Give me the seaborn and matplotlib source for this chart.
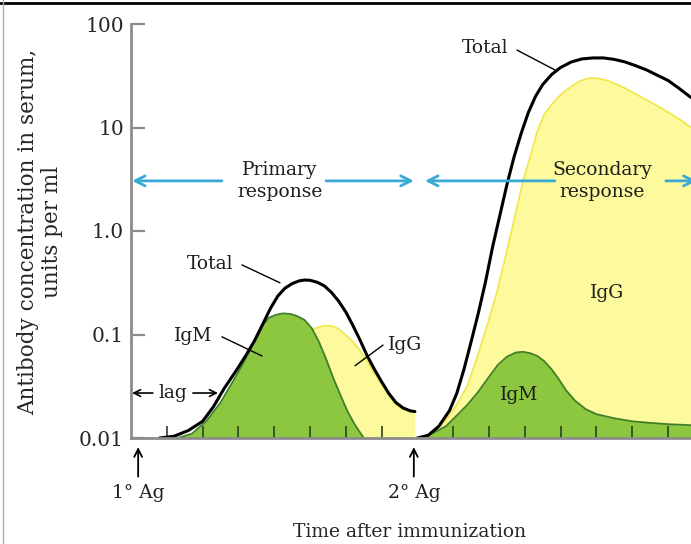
import matplotlib
matplotlib.use("Agg")
import matplotlib.pyplot as plt
import seaborn as sns
from matplotlib.transforms import blended_transform_factory
from matplotlib.lines import Line2D

# ---------------- data ----------------
# x: time after primary immunization, in tick intervals; y: units per ml
prim_total_x = [0.8, 1.2, 1.6, 2.0, 2.3, 2.6, 2.96, 3.2, 3.45, 3.7, 3.9, 4.1, 4.3, 4.5, 4.7,
                4.85, 5.0, 5.2, 5.4, 5.6, 5.8, 6.0, 6.2, 6.4, 6.6, 6.8, 7.0, 7.2, 7.4, 7.6,
                7.8, 7.93]
prim_total_y = [0.01, 0.0104, 0.0118, 0.0145, 0.02, 0.03, 0.046, 0.062, 0.087, 0.13, 0.18,
                0.235, 0.28, 0.31, 0.33, 0.336, 0.334, 0.32, 0.295, 0.255, 0.21, 0.165,
                0.122, 0.088, 0.062, 0.046, 0.035, 0.027, 0.022, 0.0195, 0.0183, 0.018]

prim_igm_x = [1.3, 1.7, 2.1, 2.5, 2.8, 3.1, 3.4, 3.65, 3.85, 4.05, 4.25, 4.45, 4.65, 4.85,
              5.05, 5.25, 5.45, 5.65, 5.85, 6.05, 6.25, 6.5]
prim_igm_y = [0.01, 0.011, 0.0145, 0.022, 0.033, 0.05, 0.08, 0.12, 0.145, 0.155, 0.16, 0.158,
              0.15, 0.138, 0.115, 0.085, 0.058, 0.038, 0.026, 0.018, 0.0135, 0.01]

prim_igg_x = [3.0, 3.5, 3.9, 4.3, 4.6, 4.9, 5.15, 5.4, 5.6, 5.8, 6.0, 6.2, 6.4, 6.6, 6.8,
              7.0, 7.2, 7.4, 7.6, 7.8, 7.93]
prim_igg_y = [0.01, 0.014, 0.024, 0.045, 0.075, 0.1, 0.115, 0.122, 0.121, 0.113, 0.099,
              0.085, 0.07, 0.055, 0.042, 0.033, 0.026, 0.021, 0.019, 0.018, 0.018]

sec_total_x = [8.0, 8.3, 8.6, 8.9, 9.1, 9.3, 9.5, 9.7, 9.9, 10.1, 10.3, 10.5, 10.7, 10.9,
               11.1, 11.3, 11.5, 11.75, 12.0, 12.3, 12.6, 12.9, 13.2, 13.5, 13.8, 14.1,
               14.4, 14.7, 15.0, 15.3, 15.64]
sec_total_y = [0.01, 0.0106, 0.013, 0.0185, 0.027, 0.046, 0.085, 0.16, 0.32, 0.7, 1.4, 2.8,
               5.2, 8.8, 14, 20, 26, 32.5, 38, 43, 46, 47, 47, 45.5, 43, 39.5, 36, 32,
               28.5, 24, 19.5]

sec_igg_x = [8.0, 8.4, 8.8, 9.1, 9.4, 9.7, 10.0, 10.2, 10.4, 10.6, 10.8, 10.95, 11.15,
             11.35, 11.55, 11.8, 12.05, 12.3, 12.55, 12.8, 13.05, 13.3, 13.6, 13.9, 14.3,
             14.7, 15.1, 15.4, 15.64]
sec_igg_y = [0.01, 0.011, 0.015, 0.021, 0.032, 0.065, 0.14, 0.24, 0.46, 0.9, 1.8, 3.04,
             5.2, 9.2, 13.5, 17.5, 21.5, 25, 28.3, 30, 29.8, 28.5, 25.8, 23, 19.3, 16.2,
             13.4, 11.5, 10]

sec_igm_x = [8.0, 8.4, 8.8, 9.1, 9.4, 9.7, 10.0, 10.25, 10.5, 10.75, 10.95, 11.15, 11.35,
             11.55, 11.75, 11.95, 12.15, 12.4, 12.7, 13.0, 13.5, 14.0, 14.5, 15.0, 15.64]
sec_igm_y = [0.01, 0.011, 0.013, 0.0165, 0.021, 0.028, 0.039, 0.051, 0.061, 0.067, 0.068,
             0.066, 0.062, 0.055, 0.046, 0.037, 0.029, 0.023, 0.019, 0.017, 0.0155,
             0.0145, 0.014, 0.0136, 0.0133]

y_ticks = [0.01, 0.1, 1.0, 10, 100]
y_ticklabels = ["0.01", "0.1", "1.0", "10", "100"]
x_ticks = [1, 2, 3, 4, 5, 6, 7, 9, 10, 11, 12, 13, 14, 15]

# ---------------- style ----------------
sns.set_style("white")
plt.rcParams["font.family"] = ["DejaVu Serif"]
plt.rcParams["text.color"] = "#1e1e1e"
FS = 13.5
GREEN = "#8dc63f"
GREEN_EDGE = "#3f7f28"
YELLOW = "#fdfa9e"
YELLOW_EDGE = "#f0e84e"
BLUE = "#3aa9d6"
GREY = "#8c8c8c"

fig = plt.figure(figsize=(6.91, 5.44), dpi=100)
ax = fig.add_axes([131 / 691, 106 / 544, 560 / 691, 414 / 544])
ax.set_yscale("log")
ax.set_axisbelow(False)

def area(xs, ys, fill, edge, z):
    ax.fill_between(xs, 0.01, ys, color=fill, lw=0, zorder=z)
    sns.lineplot(x=xs, y=ys, ax=ax, color=edge, lw=1.3, sort=False,
                 estimator=None, zorder=z + 0.05)

area(prim_igg_x, prim_igg_y, YELLOW, YELLOW_EDGE, 1.0)
area(prim_igm_x, prim_igm_y, GREEN, GREEN_EDGE, 1.2)
area(sec_igg_x, sec_igg_y, YELLOW, YELLOW_EDGE, 1.0)
area(sec_igm_x, sec_igm_y, GREEN, GREEN_EDGE, 1.2)

sns.lineplot(x=prim_total_x, y=prim_total_y, ax=ax, color="black", lw=2.2,
             sort=False, estimator=None, zorder=3)
sns.lineplot(x=sec_total_x, y=sec_total_y, ax=ax, color="black", lw=2.2,
             sort=False, estimator=None, zorder=3)

ax.set_xlim(0, 560 / 35.8)
ax.set_ylim(0.01, 100)
ax.set_yticks(y_ticks)
ax.set_yticklabels(y_ticklabels, fontsize=14.5)
ax.yaxis.set_minor_locator(matplotlib.ticker.NullLocator())
ax.set_xticks(x_ticks)
ax.set_xticklabels([])
ax.tick_params(axis="y", direction="in", length=10, width=1.6, color=GREY, pad=5, left=True)
ax.tick_params(axis="x", direction="in", length=9, width=1.2, color="#2f3f1f", bottom=True)

for s in ["top", "right"]:
    ax.spines[s].set_visible(False)
for s in ["left", "bottom"]:
    ax.spines[s].set_color(GREY)
    ax.spines[s].set_linewidth(2)
    ax.spines[s].set_zorder(3.5)

ax.set_ylabel("Antibody concentration in serum,\nunits per ml", fontsize=15.5, linespacing=1.1)
ax.yaxis.label.set_va("center")
ax.yaxis.set_label_coords(-0.1625, 0.4976)
ax.set_xlabel("Time after immunization", fontsize=FS)
ax.xaxis.label.set_va("center")
ax.xaxis.set_label_coords(0.498, -0.227)

# ---------------- blue response arrows ----------------
y_arr = 3.05
def harrow(x0, x1):
    ax.annotate("", xy=(x1, y_arr), xytext=(x0, y_arr), annotation_clip=False,
                arrowprops=dict(arrowstyle="->", color=BLUE, lw=2.0, mutation_scale=18,
                                shrinkA=0, shrinkB=0), zorder=4)
harrow(2.54, 0.03)
harrow(5.45, 7.9)
harrow(11.84, 8.21)
harrow(14.94, 15.8)
ax.text(4.16, y_arr, "Primary\nresponse", ha="center", va="center", fontsize=FS, linespacing=1.25)
ax.text(13.16, y_arr, "Secondary\nresponse", ha="center", va="center", fontsize=FS, linespacing=1.25)

# ---------------- labels with leader lines ----------------
def leader(x0, y0, x1, y1):
    ax.plot([x0, x1], [y0, y1], color="black", lw=1.0, zorder=4)

ax.text(2.2, 0.48, "Total", ha="center", va="center", fontsize=FS)
leader(3.1, 0.47, 4.16, 0.316)
ax.text(1.73, 0.097, "IgM", ha="center", va="center", fontsize=FS)
leader(2.54, 0.095, 3.66, 0.062)
ax.text(7.65, 0.079, "IgG", ha="center", va="center", fontsize=FS)
leader(7.04, 0.079, 6.26, 0.05)

ax.text(9.89, 58.6, "Total", ha="center", va="center", fontsize=FS)
leader(10.78, 56, 11.84, 36)
ax.text(13.3, 0.25, "IgG", ha="center", va="center", fontsize=FS)
ax.text(10.83, 0.026, "IgM", ha="center", va="center", fontsize=FS)

# lag
y_lag = 0.0272
ax.text(1.17, y_lag, "lag", ha="center", va="center", fontsize=FS)
for a, b in [(0.61, 0.03), (1.73, 2.43)]:
    ax.annotate("", xy=(b, y_lag), xytext=(a, y_lag),
                arrowprops=dict(arrowstyle="->", color="black", lw=1.2, mutation_scale=12,
                                shrinkA=0, shrinkB=0))

# antigen arrows below the axis
tr = blended_transform_factory(ax.transData, ax.transAxes)
for xa, label in [(0.2, "1° Ag"), (7.9, "2° Ag")]:
    ax.annotate(label, xy=(xa, -0.022), xycoords=tr, xytext=(xa, -0.133), textcoords=tr,
                ha="center", va="center", fontsize=FS, annotation_clip=False,
                arrowprops=dict(arrowstyle="->", color="black", lw=1.3, mutation_scale=14,
                                shrinkA=3, shrinkB=0))

# figure frame lines (top black, left grey)
fig.add_artist(Line2D([0, 1], [1 - 2.5 / 544] * 2, transform=fig.transFigure, color="black", lw=2))
fig.add_artist(Line2D([2.5 / 691] * 2, [0, 1], transform=fig.transFigure, color="#b0b0b0", lw=1))

fig.savefig("out.png", dpi=100)
